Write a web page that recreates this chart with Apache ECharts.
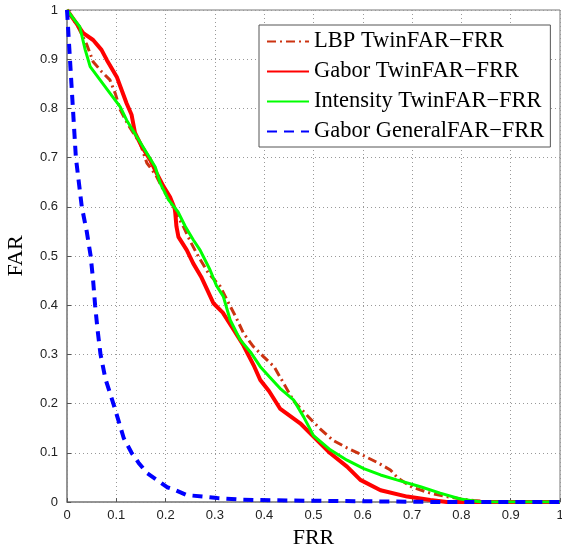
<!DOCTYPE html>
<html>
<head>
<meta charset="utf-8">
<script src="https://cdn.jsdelivr.net/npm/echarts@6/dist/echarts.min.js"></script>
<style>
  html, body { margin: 0; padding: 0; background: #fff; }
  #chart_container { width: 562px; height: 544px; }
</style>
</head>
<body>
<div id="chart_container"></div>
<script>
"use strict";

// [FRR, FAR] pairs
const lbpTwin = [[0,1],[0.02,0.97],[0.04,0.93],[0.053,0.895],[0.07,0.875],[0.087,0.858],[0.098,0.83],[0.108,0.797],[0.125,0.765],[0.138,0.745],[0.148,0.73],[0.162,0.689],[0.18,0.665],[0.195,0.635],[0.21,0.61],[0.222,0.585],[0.236,0.56],[0.25,0.53],[0.267,0.498],[0.287,0.465],[0.311,0.438],[0.328,0.404],[0.343,0.375],[0.358,0.343],[0.378,0.316],[0.399,0.295],[0.42,0.275],[0.443,0.235],[0.46,0.205],[0.485,0.178],[0.514,0.148],[0.54,0.125],[0.568,0.11],[0.6,0.095],[0.63,0.08],[0.656,0.065],[0.672,0.048],[0.7,0.03],[0.737,0.018],[0.77,0.011],[0.8,0.006],[0.825,0.003],[0.86,0],[1,0]];

const gaborTwin = [[0,1],[0.033,0.953],[0.053,0.939],[0.07,0.919],[0.081,0.898],[0.101,0.864],[0.111,0.837],[0.121,0.81],[0.131,0.787],[0.138,0.75],[0.152,0.722],[0.169,0.695],[0.182,0.668],[0.196,0.641],[0.209,0.62],[0.219,0.595],[0.222,0.56],[0.226,0.539],[0.243,0.512],[0.256,0.485],[0.272,0.458],[0.285,0.43],[0.297,0.404],[0.316,0.385],[0.338,0.35],[0.358,0.318],[0.38,0.275],[0.392,0.248],[0.41,0.225],[0.432,0.19],[0.473,0.16],[0.5,0.133],[0.534,0.099],[0.568,0.072],[0.595,0.045],[0.636,0.024],[0.69,0.011],[0.737,0.004],[0.77,0],[1,0]];

const intensityTwin = [[0,1],[0.015,0.98],[0.026,0.966],[0.032,0.94],[0.037,0.919],[0.047,0.885],[0.067,0.858],[0.087,0.831],[0.108,0.803],[0.121,0.776],[0.142,0.742],[0.162,0.709],[0.179,0.681],[0.189,0.648],[0.206,0.614],[0.225,0.59],[0.24,0.56],[0.256,0.533],[0.27,0.512],[0.29,0.472],[0.303,0.44],[0.317,0.418],[0.331,0.37],[0.351,0.33],[0.372,0.305],[0.392,0.275],[0.41,0.255],[0.432,0.231],[0.46,0.207],[0.48,0.173],[0.5,0.135],[0.534,0.106],[0.568,0.085],[0.602,0.068],[0.636,0.055],[0.669,0.045],[0.717,0.031],[0.757,0.018],[0.798,0.006],[0.84,0],[1,0]];

const gaborGeneral = [[0,1],[0.003,0.95],[0.006,0.9],[0.009,0.85],[0.012,0.8],[0.015,0.75],[0.018,0.7],[0.024,0.65],[0.03,0.6],[0.04,0.55],[0.048,0.5],[0.053,0.45],[0.057,0.4],[0.062,0.35],[0.068,0.3],[0.078,0.25],[0.094,0.2],[0.104,0.167],[0.115,0.13],[0.131,0.1],[0.145,0.08],[0.162,0.059],[0.182,0.045],[0.203,0.03],[0.22,0.024],[0.243,0.014],[0.276,0.011],[0.305,0.008],[0.35,0.005],[0.39,0.004],[0.46,0.003],[0.55,0.002],[0.65,0.001],[0.75,0],[1,0]];

const seriesNames = ['LBP TwinFAR\u2212FRR', 'Gabor TwinFAR\u2212FRR', 'Intensity TwinFAR\u2212FRR', 'Gabor GeneralFAR\u2212FRR'];

let myChart;

let axisCommon = (name, gap) => ({
    type: 'value',
    min: 0,
    max: 1,
    interval: 0.1,
    name: name,
    nameLocation: 'middle',
    nameGap: gap,
    nameTextStyle: { fontFamily: 'Liberation Serif', fontSize: 22, color: '#000' },
    axisLine: { show: true, lineStyle: { color: '#888', width: 1.5 } },
    axisTick: { show: true, inside: true, length: 4, lineStyle: { color: '#555' } },
    axisLabel: { fontFamily: 'Liberation Sans', fontSize: 13, color: '#222' },
    splitLine: { show: true, lineStyle: { color: '#999', type: [1, 3], width: 1 } }
});

let pageLoaded = () => {
    let chartDom = document.getElementById('chart_container');
    myChart = echarts.init(chartDom, null, { renderer: 'canvas' });

    let xAx = axisCommon('FRR', 19);
    xAx.axisLabel.margin = 7;
    let yAx = axisCommon('FAR', 40);
    yAx.axisLabel.margin = 9;
    yAx.nameRotate = 90;

    let optEchart = {
        animation: false,
        backgroundColor: '#fff',
        grid: {
            left: 67, right: 2, top: 10, bottom: 42,
            containLabel: false, outerBoundsMode: 'none',
            show: true, borderColor: '#777', borderWidth: 1
        },
        xAxis: xAx,
        yAxis: yAx,
        legend: {
            orient: 'vertical',
            left: 259,
            top: 25,
            data: seriesNames,
            itemWidth: 42,
            itemHeight: 14,
            itemGap: 7,
            padding: [5, 6, 4, 7],
            backgroundColor: '#fff',
            borderColor: '#555',
            borderWidth: 1,
            itemStyle: { opacity: 0 },
            textStyle: { fontFamily: 'Liberation Serif', fontSize: 22.5, color: '#000', padding: [0, 0, 0, 0] }
        },
        series: [
            {
                name: seriesNames[0], type: 'line', data: lbpTwin, symbol: 'none',
                lineStyle: { color: '#cc3311', width: 3, type: [9, 4, 2, 4] },
                itemStyle: { color: '#cc3311' }
            },
            {
                name: seriesNames[1], type: 'line', data: gaborTwin, symbol: 'none',
                lineStyle: { color: '#ff0000', width: 4 },
                itemStyle: { color: '#ff0000' }
            },
            {
                name: seriesNames[2], type: 'line', data: intensityTwin, symbol: 'none',
                lineStyle: { color: '#00ff00', width: 3 },
                itemStyle: { color: '#00ff00' }
            },
            {
                name: seriesNames[3], type: 'line', data: gaborGeneral, symbol: 'none',
                lineStyle: { color: '#0000ff', width: 4, type: [10, 7] },
                itemStyle: { color: '#0000ff' }
            }
        ]
    };

    myChart.setOption(optEchart);
};

window.addEventListener('load', pageLoaded, false);
</script>
</body>
</html>
